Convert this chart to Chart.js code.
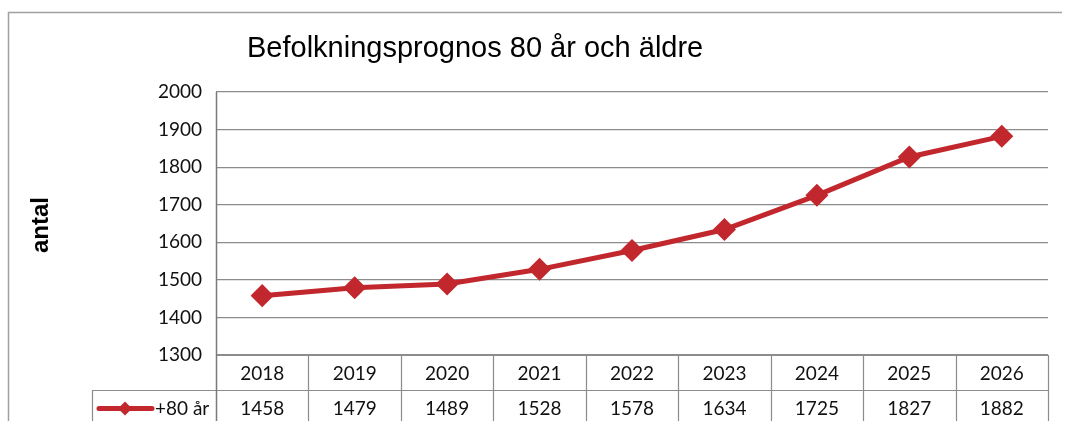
<!DOCTYPE html>
<html>
<head>
<meta charset="utf-8">
<script src="https://cdn.jsdelivr.net/npm/chart.js@4"></script>
<style>
  html, body { margin: 0; padding: 0; background: #fff; }
  #wrap { width: 1069px; height: 421px; position: relative; }
</style>
</head>
<body>
<div id="wrap"><canvas id="c" width="1069" height="421"></canvas></div>
<script>
// Befolkningsprognos 80 år och äldre — line chart with Excel-style data table underneath.

const years = ["2018", "2019", "2020", "2021", "2022", "2023", "2024", "2025", "2026"];
const seriesName = "+80 år";
const values = [1458, 1479, 1489, 1528, 1578, 1634, 1725, 1827, 1882];
const yTicks = [1300, 1400, 1500, 1600, 1700, 1800, 1900, 2000];

const RED = "#c1272d";
const GRID = "#8c8c8c";
const TICK_FONT = "Lato, 'Open Sans', sans-serif";

// Draws the frame, title, axis title and the data table below the plot.
const tablePlugin = {
  id: "excelTable",
  afterDraw(chart) {
    const ctx = chart.ctx;
    const x = chart.scales.x;
    const area = chart.chartArea;
    const step = (area.right - area.left) / years.length;
    const rowH = 35;
    const top = area.bottom;
    const legendLeft = 92;

    ctx.save();
    // outer frame
    ctx.strokeStyle = "#a0a0a0";
    ctx.lineWidth = 1.5;
    ctx.beginPath();
    ctx.moveTo(8.5, 421);
    ctx.lineTo(8.5, 12.5);
    ctx.lineTo(1062, 12.5);
    ctx.stroke();

    // title
    ctx.fillStyle = "#000";
    ctx.font = "29px 'Liberation Sans', Arial, sans-serif";
    ctx.textAlign = "left";
    ctx.textBaseline = "middle";
    ctx.fillText("Befolkningsprognos 80 år och äldre", 247, 49);

    // y axis title
    ctx.save();
    ctx.translate(41, 225);
    ctx.rotate(-Math.PI / 2);
    ctx.font = "bold 24px 'Liberation Sans', Arial, sans-serif";
    ctx.textAlign = "center";
    ctx.fillText("antal", 0, 0);
    ctx.restore();

    // table grid
    ctx.strokeStyle = GRID;
    ctx.lineWidth = 1.2;
    ctx.beginPath();
    ctx.moveTo(area.left, top + 0.5);
    ctx.lineTo(area.right, top + 0.5);
    ctx.moveTo(legendLeft, top + rowH + 0.5);
    ctx.lineTo(area.right, top + rowH + 0.5);
    ctx.moveTo(legendLeft + 0.5, top + rowH);
    ctx.lineTo(legendLeft + 0.5, 421);
    for (let i = 1; i <= years.length; i++) {
      const lx = Math.round(area.left + i * step) + 0.5;
      ctx.moveTo(lx, top);
      ctx.lineTo(lx, 421);
    }
    ctx.stroke();

    // vertical axis line
    ctx.strokeStyle = "#7a7a7a";
    ctx.lineWidth = 1.5;
    ctx.beginPath();
    ctx.moveTo(area.left + 0.5, area.top);
    ctx.lineTo(area.left + 0.5, 421);
    ctx.stroke();

    // texts
    ctx.fillStyle = "#111";
    ctx.font = "19px " + TICK_FONT;
    ctx.textAlign = "center";
    years.forEach((yr, i) => {
      const cx = x.getPixelForValue(i);
      ctx.fillText(yr, cx, top + rowH / 2 + 1);
      ctx.fillText(String(values[i]), cx, top + rowH + rowH / 2 + 1);
    });

    // legend key
    const ly = top + rowH + rowH / 2 + 1;
    ctx.strokeStyle = RED;
    ctx.lineWidth = 5;
    ctx.lineCap = "round";
    ctx.beginPath();
    ctx.moveTo(99, ly);
    ctx.lineTo(152, ly);
    ctx.stroke();
    ctx.fillStyle = RED;
    ctx.beginPath();
    ctx.moveTo(125, ly - 7);
    ctx.lineTo(132, ly);
    ctx.lineTo(125, ly + 7);
    ctx.lineTo(118, ly);
    ctx.closePath();
    ctx.fill();
    ctx.fillStyle = "#111";
    ctx.textAlign = "left";
    ctx.fillText(seriesName, 155, ly);
    ctx.restore();
  }
};

new Chart(document.getElementById("c"), {
  type: "line",
  data: {
    labels: years,
    datasets: [{
      label: seriesName,
      data: values,
      borderColor: RED,
      backgroundColor: RED,
      borderWidth: 5,
      pointStyle: "rectRot",
      pointRadius: 8,
      pointHoverRadius: 8,
      tension: 0
    }]
  },
  options: {
    responsive: false,
    animation: false,
    layout: { padding: { top: 92, bottom: 66, left: 0, right: 21 } },
    plugins: { legend: { display: false }, tooltip: { enabled: false } },
    scales: {
      x: {
        offset: true,
        ticks: { display: false },
        grid: { display: false },
        border: { display: false },
        afterFit: (s) => { s.height = 0; }
      },
      y: {
        min: 1300,
        max: 2000,
        afterBuildTicks: (s) => { s.ticks = yTicks.map((v) => ({ value: v })); },
        afterFit: (s) => { s.width = 216; },
        ticks: {
          color: "#111",
          font: { family: TICK_FONT, size: 19 },
          padding: 14,
          callback: (v) => String(v)
        },
        grid: { color: GRID, lineWidth: 1.2, drawTicks: false },
        border: { display: false }
      }
    }
  },
  plugins: [tablePlugin]
});
</script>
</body>
</html>
